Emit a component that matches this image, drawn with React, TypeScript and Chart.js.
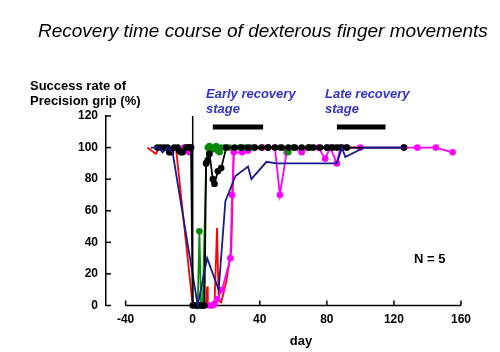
import React, { useEffect, useRef } from "react";
import { Chart, registerables } from "chart.js";
Chart.register(...registerables);

const xTickValues = [-40, 0, 40, 80, 120, 160];
const yTickValues = [0, 20, 40, 60, 80, 100, 120];

const blackDays = [-21, -19, -17, -15, -14, -13, -11, -9, -8, -7, -6, -4, -3, -2, -1, 0, 2, 4, 6, 7, 8, 9, 10, 12, 13, 15, 17, 20, 25, 29, 33, 37, 41, 45, 49, 53, 57, 61, 65, 69, 72, 76, 80, 83, 86, 89, 92, 126];
const blackValues = [100, 100, 100, 100, 97, 97, 100, 100, 98, 97, 97, 100, 100, 100, 100, 0, 0, 0, 0, 0, 90, 92, 96, 80, 77, 85, 87, 100, 100, 100, 100, 100, 100, 100, 100, 100, 100, 100, 100, 100, 100, 100, 100, 100, 100, 100, 100, 100];

const greenDays = [2, 3, 4, 5, 6, 8, 9, 10, 11, 12, 13, 14, 15, 16, 17, 19, 22, 28, 31, 35, 45, 52, 57, 60, 70, 80, 84, 88];
const greenValues = [0, 0, 47, 0, 0, 90, 100, 101, 100, 99, 100, 101, 98, 97, 100, 100, 100, 100, 100, 100, 100, 100, 97, 100, 100, 100, 100, 100];

const redDays = [-27, -22, -20, -15, -10, 0, 1, 5, 8, 8.6, 9, 13, 14.5, 15.5, 17, 20, 23, 24.5, 26, 40, 60, 80, 100];
const redValues = [100, 96, 100, 100, 100, 0, 0, 0, 0, 12, 0, 0, 49, 3, 2, 15, 35, 99, 100, 100, 100, 100, 100];

const magentaDays = [-6, -5, -4, -3, -2, -1, 5, 10, 12, 13, 14.6, 17.5, 22.5, 23.5, 24.5, 29.5, 33, 37, 42, 45, 49, 52, 56, 60, 65, 70, 75, 79, 82, 86, 88, 91.5, 100, 126, 134, 145, 155];
const magentaValues = [98, 100, 98, 100, 97, 100, null, 0, 0, 1, 4, 10, 30, 70, 97, 97, 98, 100, 100, 100, 100, 70, 97, 100, 97, 100, 100, 93, 100, 90, 100, 100, 100, 100, 100, 100, 97];

const navyDays = [-25, -20, -18, -15, -12, 3, 8.6, 15.5, 19.5, 25.5, 33, 35, 44, 50, 70, 86, 89, 91, 102, 126];
const navyValues = [100, 100, 97, 100, 97, 0, 30, 10, 66, 82, 88, 80, 91, 90, 90, 90, 100, 94, 100, 100];

const surgeryDay = [0, 0];
const surgeryLine = [0, 120];
const earlyStage = [12, 42];
const lateStage = [86, 115];
const stageLevel = [113, 113];

function zip(d: number[], v: (number | null)[]) {
  return d.map((x, i) => ({ x, y: v[i] }));
}

const overlay = {
  id: "overlay",
  beforeDatasetsDraw(chart: any) {
    const ctx = chart.ctx;
    const xs = chart.scales.x;
    const ys = chart.scales.y;
    const bottom = chart.chartArea.bottom;
    const left = chart.chartArea.left;
    ctx.save();
    ctx.strokeStyle = "#000";
    ctx.lineWidth = 1.5;
    ctx.beginPath();
    ctx.moveTo(xs.getPixelForValue(xTickValues[0]), bottom);
    ctx.lineTo(xs.getPixelForValue(xTickValues[xTickValues.length - 1]), bottom);
    ctx.stroke();
    xTickValues.forEach((v) => {
      const px = xs.getPixelForValue(v);
      ctx.beginPath();
      ctx.moveTo(px, bottom);
      ctx.lineTo(px, bottom - 5);
      ctx.stroke();
    });
    yTickValues.forEach((v) => {
      const py = ys.getPixelForValue(v);
      ctx.beginPath();
      ctx.moveTo(left, py);
      ctx.lineTo(left + 5, py);
      ctx.stroke();
    });
    ctx.restore();
  },
  afterDraw(chart: any) {
    const ctx = chart.ctx;
    ctx.save();
    ctx.fillStyle = "#000";
    ctx.textAlign = "left";
    ctx.textBaseline = "alphabetic";
    ctx.font = "italic 19px 'Liberation Sans', Arial, sans-serif";
    ctx.fillText("Recovery time course of dexterous finger movements", 38, 37);
    ctx.font = "bold 13px 'Liberation Sans', Arial, sans-serif";
    ctx.fillText("Success rate of", 30, 90);
    ctx.fillText("Precision grip (%)", 30, 105);
    ctx.fillText("N = 5", 414, 263);
    ctx.textAlign = "center";
    ctx.fillText("day", 301, 345);
    ctx.textAlign = "left";
    ctx.fillStyle = "#3333cc";
    ctx.font = "italic bold 13px 'Liberation Sans', Arial, sans-serif";
    ctx.fillText("Early recovery", 206, 98);
    ctx.fillText("stage", 206, 113);
    ctx.fillText("Late recovery", 325, 98);
    ctx.fillText("stage", 325, 113);
    ctx.restore();
  },
};

function series(label: string, d: number[], v: (number | null)[], color: string, radius: number, width = 1.8) {
  return {
    label,
    data: zip(d, v),
    showLine: true,
    borderColor: color,
    backgroundColor: color,
    borderWidth: width,
    pointRadius: radius,
    pointBorderWidth: 0,
    pointHoverRadius: radius,
    spanGaps: false,
    clip: false as any,
  };
}

export default function App() {
  const ref = useRef<HTMLCanvasElement>(null);
  useEffect(() => {
    if (!ref.current) return;
    const chart = new Chart(ref.current, {
      type: "scatter",
      data: {
        datasets: [
          series("surgery", surgeryDay, surgeryLine, "#000", 0, 1.5),
          series("early", earlyStage, stageLevel, "#000", 0, 5),
          series("late", lateStage, stageLevel, "#000", 0, 5),
          series("navy", navyDays, navyValues, "#1a1a8c", 0, 1.8),
          series("black", blackDays, blackValues, "#000", 3.3),
          series("green", greenDays, greenValues, "#0a8a0a", 3.3),
          series("magenta", magentaDays, magentaValues, "#ff00ff", 3.3),
          series("red", redDays, redValues, "#ff0000", 0),
        ] as any,
      },
      options: {
        animation: false,
        responsive: false,
        maintainAspectRatio: false,
        events: [],
        layout: { padding: { top: 116, right: 39, left: 0, bottom: 0 } },
        plugins: { legend: { display: false }, tooltip: { enabled: false }, title: { display: false } },
        scales: {
          x: {
            type: "linear",
            min: -51.7,
            max: 160,
            grid: { display: false, drawTicks: false },
            border: { display: false },
            afterBuildTicks: (s: any) => {
              s.ticks = xTickValues.map((v) => ({ value: v }));
            },
            afterFit: (s: any) => {
              s.height = 46.5;
            },
            ticks: {
              padding: 7,
              maxRotation: 0,
              autoSkip: false,
              color: "#000",
              font: { family: "'Liberation Sans', Arial, sans-serif", size: 12, weight: "bold" },
            },
          },
          y: {
            type: "linear",
            min: 0,
            max: 120,
            grid: { display: false, drawTicks: false },
            border: { display: true, color: "#000", width: 1.5 },
            afterBuildTicks: (s: any) => {
              s.ticks = yTickValues.map((v) => ({ value: v }));
            },
            afterFit: (s: any) => {
              s.width = 106;
            },
            ticks: {
              padding: 8,
              color: "#000",
              font: { family: "'Liberation Sans', Arial, sans-serif", size: 12, weight: "bold" },
            },
          },
        },
      } as any,
      plugins: [overlay],
    });
    return () => chart.destroy();
  }, []);
  return (
    <div style={{ position: "absolute", left: 0, top: 0, width: 500, height: 352, background: "#fff" }}>
      <canvas ref={ref} width={500} height={352} style={{ width: 500, height: 352, display: "block" }} />
    </div>
  );
}
